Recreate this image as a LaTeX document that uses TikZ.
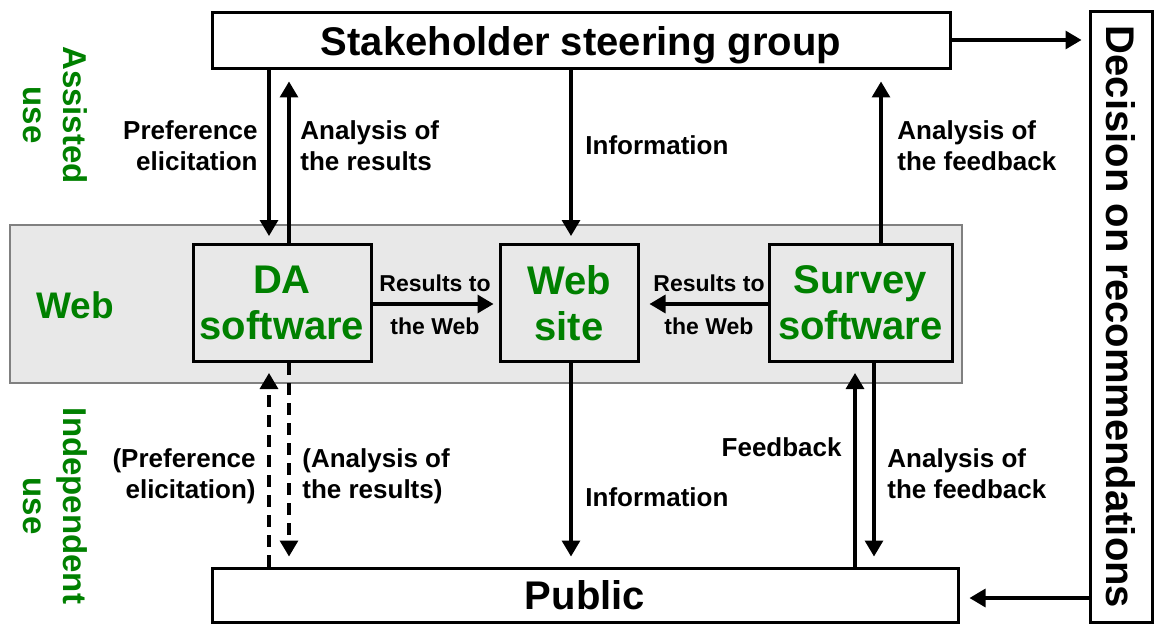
\documentclass[tikz,border=0pt]{standalone}
\usepackage{fontspec}
\setmainfont{Liberation Sans}
\usetikzlibrary{arrows.meta}
\definecolor{dagreen}{RGB}{0,128,0}
\definecolor{bandgray}{RGB}{232,232,232}
\begin{document}
\begin{tikzpicture}[x=0.5pt,y=-0.5pt,
  box/.style={draw,line width=1.5pt,inner sep=0pt,fill=white},
  bigtext/.style={font=\bfseries\fontsize{20}{23}\selectfont},
  swbox/.style={box,fill=bandgray,text=dagreen,bigtext,align=center},
  arr/.style={line width=1.6pt,-{Triangle[length=8pt,width=9pt]}},
  dashedarr/.style={arr,dash pattern=on 6pt off 4pt},
  lbl/.style={font=\bfseries\fontsize{13}{15.5}\selectfont,inner sep=0pt},
  smalllbl/.style={font=\bfseries\fontsize{11.5}{14}\selectfont,inner sep=0pt},
  side/.style={text=dagreen,font=\bfseries\fontsize{16.5}{20}\selectfont,align=center,inner sep=0pt,rotate=-90}
]
\useasboundingbox (0,0) rectangle (1155,626);

% web band
\node[draw=gray,line width=0.7pt,fill=bandgray,minimum width=476pt,minimum height=79pt,inner sep=0pt] (band) at (486,304) {};
\node[text=dagreen,font=\bfseries\fontsize{18.5}{22}\selectfont,inner sep=0pt] (weblbl) at (75,305) {Web};

% main boxes
\node[box,bigtext,text depth=0pt,minimum width=369pt,minimum height=28pt] (sh) at (581,41) {Stakeholder steering group};
\node[box,bigtext,text depth=0pt,minimum width=373pt,minimum height=27pt] (pub) at (585,595) {Public};
\node[box,minimum width=31pt,minimum height=305pt] (dec) at (1121,317) {};
\node[rotate=-90,bigtext,text depth=0pt,inner sep=0pt] (dectext) at (dec.center) {Decision on recommendations};

\node[swbox,minimum width=89pt,minimum height=58.5pt] (da) at (282,303) {DA\\software};
\node[swbox,minimum width=69pt,minimum height=58.5pt] (site) at (569,303) {Web\\site};
\node[swbox,minimum width=91.5pt,minimum height=58.5pt] (survey) at (860.5,303) {Survey\\software};

% positions of the vertical and horizontal connectors
\coordinate (xa) at (269,0);
\coordinate (xb) at (289,0);
\coordinate (xi) at (571,0);
\coordinate (xs) at (881,0);
\coordinate (xf) at (855,0);
\coordinate (xg) at (874,0);
\coordinate (ya) at (0,40);
\coordinate (yb) at (0,598);
\coordinate (yr) at (0,304);

% assisted use
\draw[arr,shorten >=3.5pt] (sh.south -| xa) -- (da.north -| xa);
\draw[arr,shorten >=5.5pt] (da.north -| xb) -- (sh.south -| xb);
\draw[arr,shorten >=3.5pt] (sh.south -| xi) -- (site.north -| xi);
\draw[arr,shorten >=5.5pt] (survey.north -| xs) -- (sh.south -| xs);

% web
\draw[arr,shorten >=2.5pt] (da.east |- yr) -- (site.west |- yr);
\draw[arr,shorten >=5pt] (survey.west |- yr) -- (site.east |- yr);

% independent use
\draw[dashedarr,shorten >=5pt] (pub.north -| xa) -- (da.south -| xa);
\draw[dashedarr,shorten >=5pt] (da.south -| xb) -- (pub.north -| xb);
\draw[arr,shorten >=5pt] (site.south -| xi) -- (pub.north -| xi);
\draw[arr,shorten >=5pt] (pub.north -| xf) -- (survey.south -| xf);
\draw[arr,shorten >=5pt] (survey.south -| xg) -- (pub.north -| xg);

% decision
\draw[arr,shorten >=3.5pt] (sh.east |- ya) -- (dec.west |- ya);
\draw[arr,shorten >=5pt] (dec.west |- yb) -- (pub.east |- yb);

% connector labels
\node[lbl,anchor=east,align=right] (l1) at (258,146) {Preference\\elicitation};
\node[lbl,anchor=west,align=left] (l2) at (300,146) {Analysis of\\the results};
\node[lbl,anchor=west] (l3) at (585,145) {Information};
\node[lbl,anchor=west,align=left] (l4) at (897,146) {Analysis of\\the feedback};
\node[smalllbl] (r1) at (435,283) {Results to};
\node[smalllbl] (r2) at (435,326) {the Web};
\node[smalllbl] (r3) at (709,283) {Results to};
\node[smalllbl] (r4) at (709,326) {the Web};
\node[lbl,anchor=east,align=right] (l5) at (256,476) {(Preference\\elicitation)};
\node[lbl,anchor=west,align=left] (l6) at (302,476) {(Analysis of\\the results)};
\node[lbl,anchor=west] (l7) at (585,497) {Information};
\node[lbl,anchor=east] (l8) at (842,447) {Feedback};
\node[lbl,anchor=west,align=left] (l9) at (887,474) {Analysis of\\the feedback};

% modes of use
\node[side] (assisted) at (55,115) {Assisted\\use};
\node[side] (indep) at (55,506) {Independent\\use};
\end{tikzpicture}
\end{document}
